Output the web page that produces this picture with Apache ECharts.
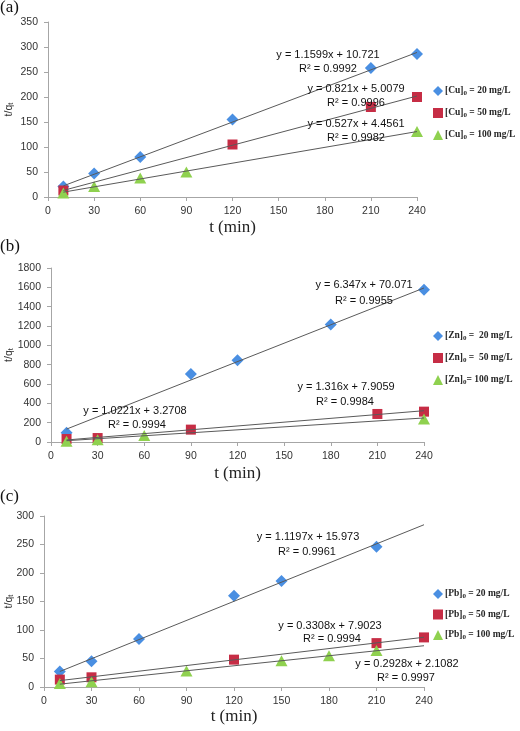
<!DOCTYPE html>
<html><head><meta charset="utf-8">
<script src="https://cdn.jsdelivr.net/npm/echarts@6/dist/echarts.min.js"></script>
<style>html,body{margin:0;padding:0;background:#fff}#c{width:520px;height:731px}</style>
</head><body><div id="c"></div>
<script>
// ---------- data ----------
const panelLabels = ['(a)', '(b)', '(c)'];
const yMax = [350, 1800, 300];
const yStep = [50, 200, 50];

const cuNames = ['[Cu]0 = 20 mg/L', '[Cu]0 = 50 mg/L', '[Cu]0 = 100 mg/L'];
const cu20X = [10, 30, 60, 120, 210, 240];
const cu20Y = [21, 47, 80, 155, 258, 286];
const cu50X = [10, 120, 210, 240];
const cu50Y = [13, 105, 180, 200];
const cu100X = [10, 30, 60, 90, 240];
const cu100Y = [8, 21, 38, 50, 131];
const cuTrendX = [10, 240];
const cuTrend20 = [22.3, 289.1];
const cuTrend50 = [13.2, 202.0];
const cuTrend100 = [9.7, 130.9];
const cuEq = ['y = 1.1599x + 10.721', 'R² = 0.9992', 'y = 0.821x + 5.0079', 'R² = 0.9996', 'y = 0.527x + 4.4561', 'R² = 0.9982'];

const znNames = ['[Zn]0 =  20 mg/L', '[Zn]0 =  50 mg/L', '[Zn]0= 100 mg/L'];
const zn20X = [10, 90, 120, 180, 240];
const zn20Y = [95, 703, 845, 1215, 1576];
const zn50X = [10, 30, 90, 210, 240];
const zn50Y = [31, 41, 128, 290, 314];
const zn100X = [10, 30, 60, 240];
const zn100Y = [7, 24, 66, 238];
const znTrendX = [10, 240];
const znTrend20 = [133.5, 1593.3];
const znTrend50 = [21.1, 323.7];
const znTrend100 = [13.5, 248.6];
const znEq = ['y = 6.347x + 70.071', 'R² = 0.9955', 'y = 1.316x + 7.9059', 'R² = 0.9984', 'y = 1.0221x + 3.2708', 'R² = 0.9994'];

const pbNames = ['[Pb]0 = 20 mg/L', '[Pb]0 = 50 mg/L', '[Pb]0 = 100 mg/L'];
const pb20X = [10, 30, 60, 120, 150, 210];
const pb20Y = [27, 45, 84, 160, 186, 246];
const pb50X = [10, 30, 120, 210, 240];
const pb50Y = [13, 17, 48, 77, 87];
const pb100X = [10, 30, 90, 150, 180, 210];
const pb100Y = [6, 9, 28, 46, 55, 64];
const pbTrendX = [10, 240];
const pbTrend20 = [27.2, 284.7];
const pbTrend50 = [11.2, 87.3];
const pbTrend100 = [5.0, 72.4];
const pbEq = ['y = 1.1197x + 15.973', 'R² = 0.9961', 'y = 0.3308x + 7.9023', 'R² = 0.9994', 'y = 0.2928x + 2.1082', 'R² = 0.9997'];

// ---------- layout / style ----------
const COLORS = ['#4A8FE2', '#C62D45', '#8FD14F'];
const SYMBOLS = ['diamond', 'rect', 'triangle'];
const SIZES = [12, 10, [12, 11]];
const grids = [
  {left: 48, right: 103, top: 22, height: 175, containLabel: false, outerBoundsMode: 'none'},
  {left: 51, right: 96, top: 268, height: 174, containLabel: false, outerBoundsMode: 'none'},
  {left: 44, right: 96, top: 516, height: 171, containLabel: false, outerBoundsMode: 'none'}
];
const xNameGap = [22, 23, 21];
const yNameGap = [33, 36, 29];
const legendTops = [80, 325, 583];
const legendGaps = [10, 10, 8.5];
const eqPos = [
  [[328, 55], [328, 69], [356, 89], [356, 103], [356, 124], [356, 138]],
  [[364, 285], [364, 301], [346, 387], [345, 402], [135, 411], [137, 425]],
  [[308, 537], [307, 552], [330, 626], [332, 639], [407, 664], [406, 678]]
];
const labelY = [8, 247, 497];

const zip = (xs, ys) => xs.map((x, i) => [x, ys[i]]);
const panels = [
  {names: cuNames, pts: [[cu20X, cu20Y], [cu50X, cu50Y], [cu100X, cu100Y]], tx: cuTrendX, tr: [cuTrend20, cuTrend50, cuTrend100], eq: cuEq},
  {names: znNames, pts: [[zn20X, zn20Y], [zn50X, zn50Y], [zn100X, zn100Y]], tx: znTrendX, tr: [znTrend20, znTrend50, znTrend100], eq: znEq},
  {names: pbNames, pts: [[pb20X, pb20Y], [pb50X, pb50Y], [pb100X, pb100Y]], tx: pbTrendX, tr: [pbTrend20, pbTrend50, pbTrend100], eq: pbEq}
];

const axisCol = '#A6A6A6';
const labelFont = 'Liberation Sans';
const xAxes = [], yAxes = [], series = [], legends = [], graphics = [];

panels.forEach((p, k) => {
  xAxes.push({
    type: 'value', gridIndex: k, min: 0, max: 240, interval: 30,
    name: 't (min)', nameLocation: 'middle', nameGap: xNameGap[k], nameMoveOverlap: false,
    nameTextStyle: {fontFamily: 'Liberation Serif', fontSize: 17, color: '#222', verticalAlign: 'top'},
    axisLine: {lineStyle: {color: axisCol, width: 1}},
    axisTick: {show: true, inside: false, length: 4, lineStyle: {color: axisCol}},
    axisLabel: {fontFamily: labelFont, fontSize: 10.5, color: '#333', margin: 9},
    splitLine: {show: false}
  });
  yAxes.push({
    type: 'value', gridIndex: k, min: 0, max: yMax[k], interval: yStep[k],
    name: 't/q{s|t}', nameLocation: 'middle', nameRotate: 90, nameGap: yNameGap[k], nameMoveOverlap: false,
    nameTextStyle: {fontFamily: labelFont, fontSize: 10.5, color: '#333',
      rich: {s: {fontSize: 7.5, fontFamily: labelFont, color: '#333', verticalAlign: 'bottom', lineHeight: 7}}},
    axisLine: {show: true, lineStyle: {color: axisCol, width: 1}},
    axisTick: {show: true, inside: false, length: 4, lineStyle: {color: axisCol}},
    axisLabel: {fontFamily: labelFont, fontSize: 10.5, color: '#333', margin: 10, formatter: v => String(v)},
    splitLine: {show: false}
  });
  p.pts.forEach((xy, j) => {
    series.push({
      type: 'scatter', name: p.names[j], xAxisIndex: k, yAxisIndex: k,
      symbol: SYMBOLS[j], symbolSize: SIZES[j],
      itemStyle: {color: COLORS[j], opacity: 1},
      data: zip(xy[0], xy[1]), z: 2, silent: true
    });
  });
  p.tr.forEach((ys, j) => {
    series.push({
      type: 'line', name: 'trend' + k + j, xAxisIndex: k, yAxisIndex: k,
      data: zip(p.tx, ys), showSymbol: false, symbol: 'none',
      lineStyle: {color: '#5A5A5A', width: 1}, z: 3, silent: true
    });
  });
  legends.push({
    data: p.names, orient: 'vertical', left: 428, top: legendTops[k],
    itemWidth: 10, itemHeight: 10, itemGap: legendGaps[k], selectedMode: false,
    formatter: n => { const i = n.indexOf(']') + 1; return n.slice(0, i) + '{s|0}' + n.slice(i + 1); },
    textStyle: {fontFamily: 'Liberation Serif', fontSize: 9.5, fontWeight: 'bold', color: '#262626', lineHeight: 12, padding: [0, 0, 0, -3],
      rich: {s: {fontFamily: 'Liberation Serif', fontSize: 7, fontWeight: 'bold', color: '#262626', verticalAlign: 'bottom', lineHeight: 8}}}
  });
  p.eq.forEach((t, i) => {
    graphics.push({
      type: 'text', z: 10, x: eqPos[k][i][0], y: eqPos[k][i][1],
      style: {text: t, font: '11px "Liberation Sans"', fill: '#111', textAlign: 'center', textVerticalAlign: 'middle'}
    });
  });
  graphics.push({
    type: 'text', z: 10, x: 0, y: labelY[k],
    style: {text: panelLabels[k], font: '17px "Liberation Serif"', fill: '#111', textAlign: 'left', textVerticalAlign: 'middle'}
  });
});

const chart = echarts.init(document.getElementById('c'), null, {renderer: 'canvas'});
chart.setOption({
  animation: false,
  backgroundColor: '#fff',
  grid: grids,
  xAxis: xAxes,
  yAxis: yAxes,
  legend: legends,
  series: series,
  graphic: graphics
});
</script>
</body></html>
